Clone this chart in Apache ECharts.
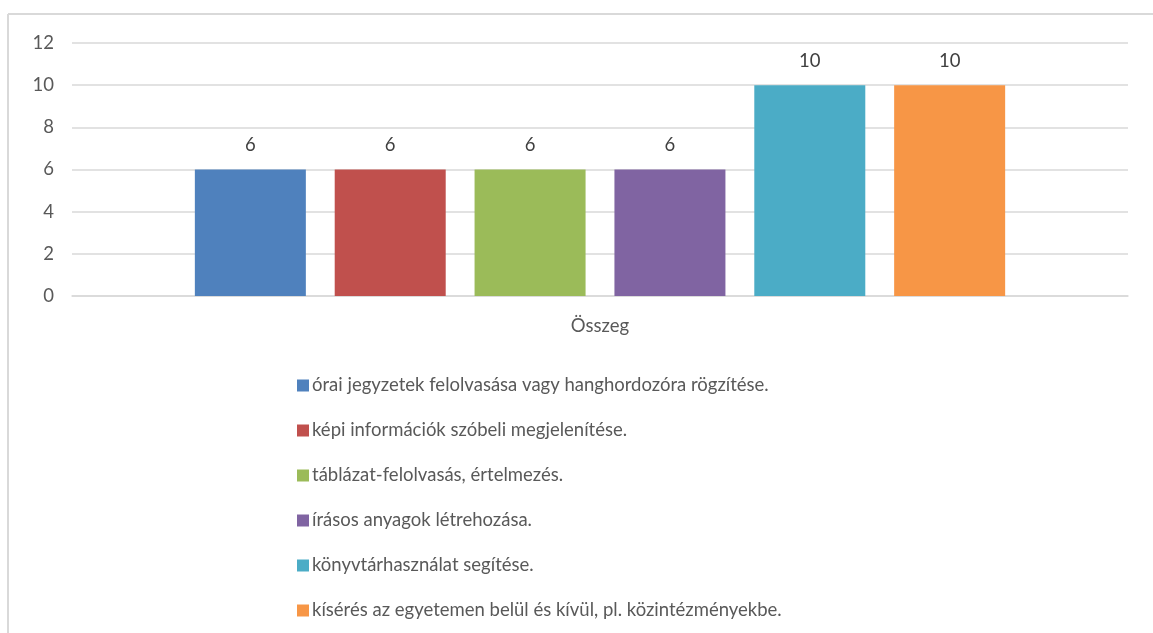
<!DOCTYPE html>
<html>
<head>
<meta charset="utf-8">
<script src="https://cdn.jsdelivr.net/npm/echarts@6/dist/echarts.min.js"></script>
<style>
  html, body { margin: 0; padding: 0; background: #fff; }
  #chart { width: 1153px; height: 633px; }
</style>
</head>
<body>
<div id="chart"></div>
<script>
// adatok
var categories = ["Összeg"];
var seriesNames = [
  "órai jegyzetek felolvasása vagy hanghordozóra rögzítése.",
  "képi információk szóbeli megjelenítése.",
  "táblázat-felolvasás, értelmezés.",
  "írásos anyagok létrehozása.",
  "könyvtárhasználat segítése.",
  "kísérés az egyetemen belül és kívül, pl. közintézményekbe."
];
var seriesValues = [6, 6, 6, 6, 10, 10];
var colors = ["#4F81BD", "#C0504D", "#9BBB59", "#8064A2", "#4BACC6", "#F79646"];

var fontFamily = "Lato, 'Open Sans', sans-serif";
var textColor = "#595959";

var series = seriesNames.map(function (name, i) {
  return {
    name: name,
    type: "bar",
    barWidth: 111,
    barGap: "26%",
    itemStyle: { color: colors[i] },
    label: {
      show: true,
      position: "top",
      distance: 15,
      color: "#404040",
      fontSize: 18.5,
      fontFamily: fontFamily
    },
    data: [seriesValues[i]]
  };
});

var myChart = echarts.init(document.getElementById("chart"));
myChart.setOption({
  animation: false,
  color: colors,
  graphic: [
    { type: "line", shape: { x1: 8, y1: 14, x2: 1153, y2: 14 }, style: { stroke: "#D9D9D9", lineWidth: 2 } },
    { type: "line", shape: { x1: 8, y1: 14, x2: 8, y2: 633 }, style: { stroke: "#D9D9D9", lineWidth: 2 } }
  ],
  grid: {
    left: 72,
    right: 25,
    top: 43,
    height: 253,
    containLabel: false
  },
  legend: {
    orient: "vertical",
    left: 292,
    top: 371,
    itemWidth: 12,
    itemHeight: 12,
    itemGap: 26,
    icon: "rect",
    textStyle: { color: textColor, fontSize: 18.5, fontFamily: fontFamily, padding: [0, 0, 0, -2] },
    data: seriesNames
  },
  xAxis: {
    type: "category",
    data: categories,
    axisLine: { lineStyle: { color: "#D9D9D9", width: 1.5 } },
    axisTick: { show: false },
    axisLabel: { color: textColor, fontSize: 18.5, fontFamily: fontFamily, margin: 21 }
  },
  yAxis: {
    type: "value",
    min: 0,
    max: 12,
    interval: 2,
    axisLine: { show: false },
    axisTick: { show: false },
    axisLabel: { color: textColor, fontSize: 18.5, fontFamily: fontFamily, margin: 18 },
    splitLine: { lineStyle: { color: "#D9D9D9", width: 1.5 } }
  },
  series: series
});
</script>
</body>
</html>
